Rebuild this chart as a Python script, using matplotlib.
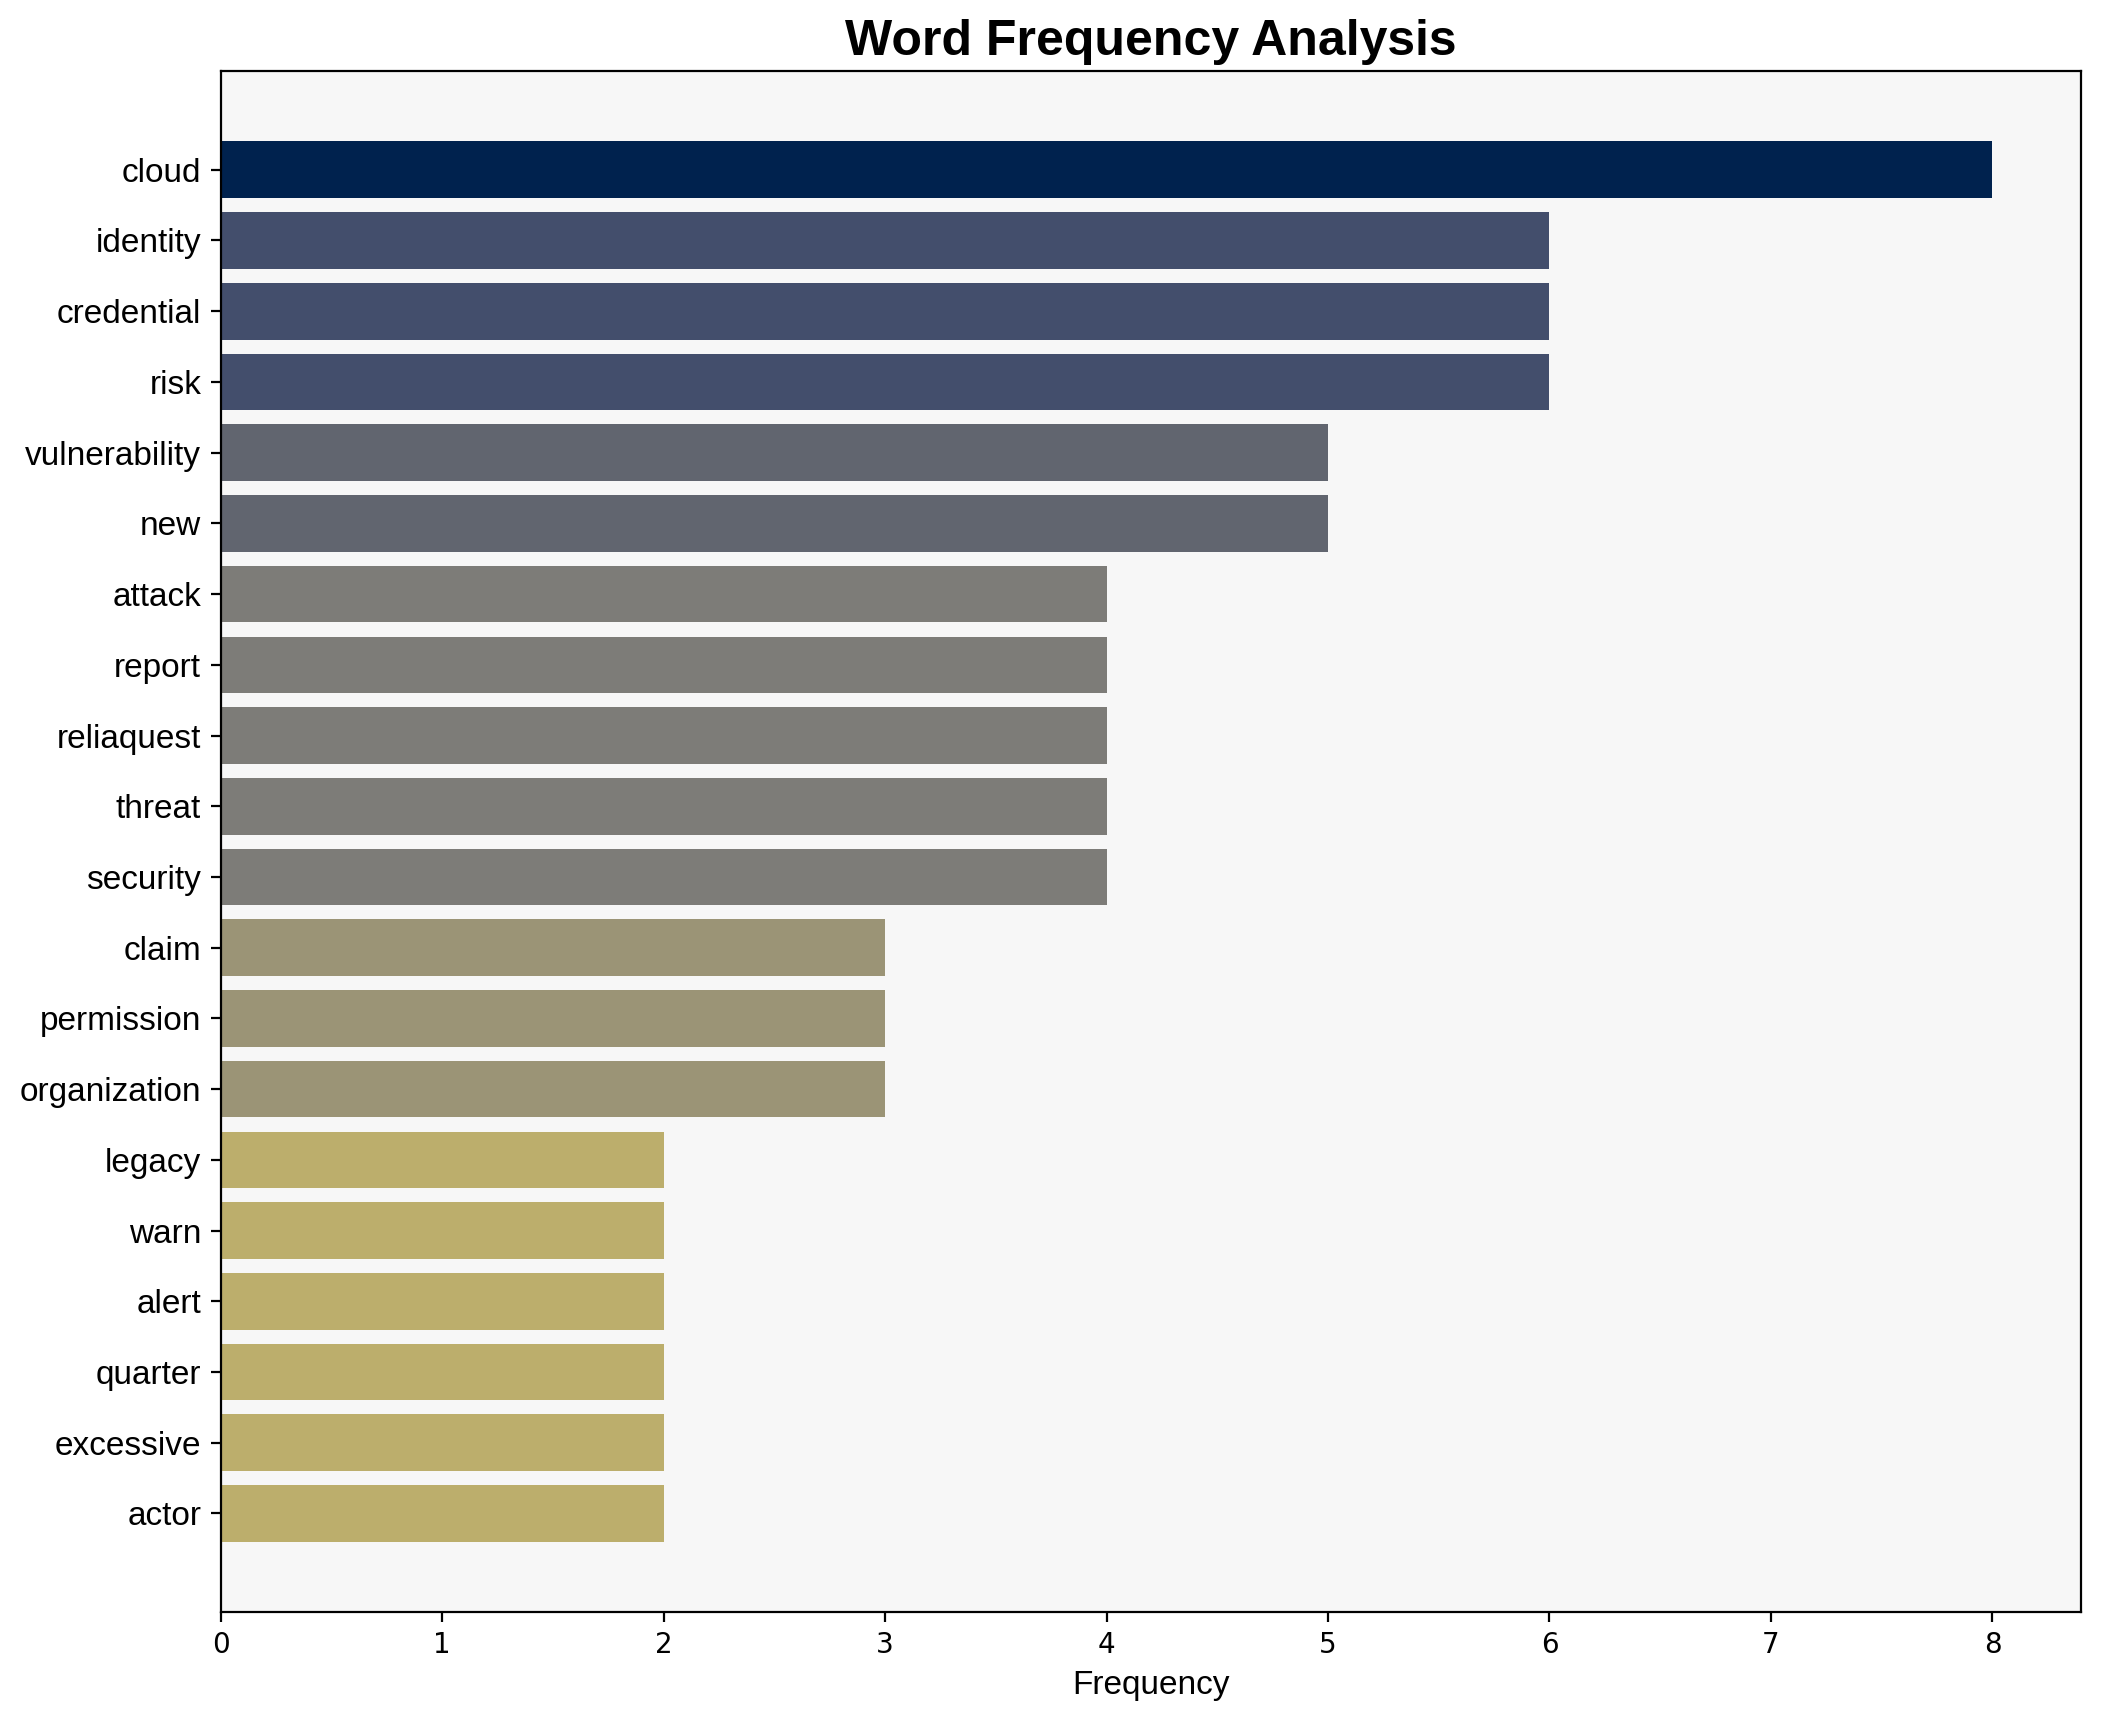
import numpy as np
import matplotlib
matplotlib.use("Agg")
import matplotlib.pyplot as plt

# ======================================
# DATOS
# ======================================

words = [
    "cloud", "identity", "credential", "risk", "vulnerability",
    "new", "attack", "report", "reliaquest", "threat",
    "security", "claim", "permission", "organization", "legacy",
    "warn", "alert", "quarter", "excessive", "actor"
]

counts = [8, 6, 6, 6, 5, 5, 4, 4, 4, 4, 4, 3, 3, 3, 2, 2, 2, 2, 2, 2]

# ======================================
# FIGURA
# ======================================

fig, ax = plt.subplots(figsize=(10.505, 8.61), dpi=200)
fig.subplots_adjust(left=0.105, right=0.9905, top=0.9585, bottom=0.064)

ax.set_facecolor("#f7f7f7")

vals = np.array(counts, dtype=float)
colors = plt.cm.cividis(1 - vals / vals.max())

ypos = np.arange(len(words))
ax.barh(ypos, vals, color=colors, height=0.8)
ax.invert_yaxis()

ax.set_yticks(ypos)
ax.set_yticklabels(words, fontsize=12, family="Liberation Sans")

ax.set_xlabel("Frequency", fontsize=12, family="Liberation Sans")
ax.set_title(
    "Word Frequency Analysis",
    fontsize=18,
    fontweight="bold",
    family="Liberation Sans"
)

plt.savefig("out.png", dpi=200)
plt.close()
